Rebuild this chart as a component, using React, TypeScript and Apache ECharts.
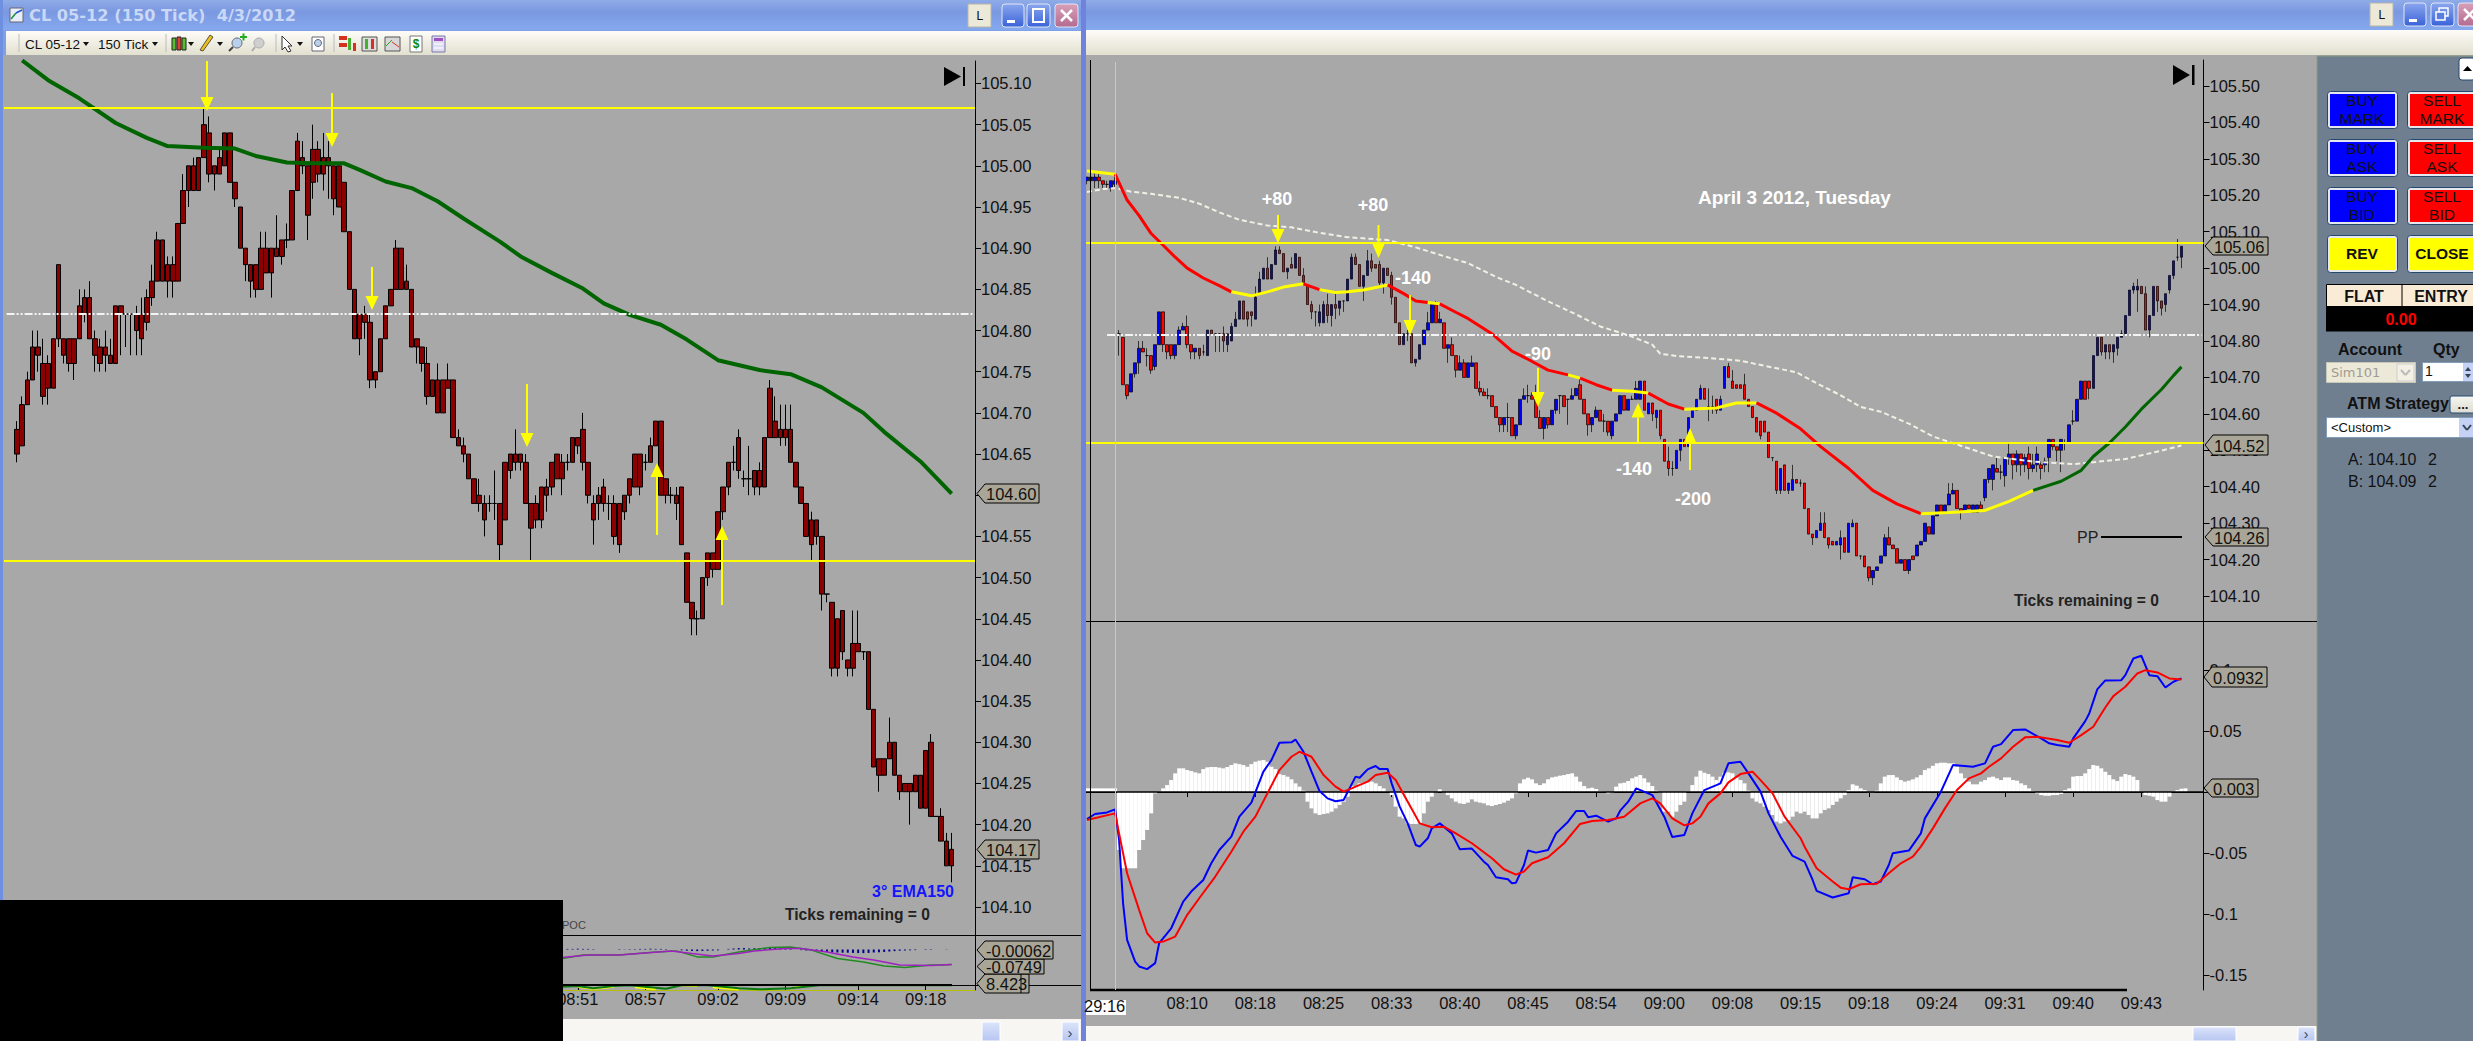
import React, { useEffect, useRef } from "react";
import * as echarts from "echarts";

// ---------- DATA (prices are cents above 104.00) ----------
const leftBars = [ // bodyTop, bodyBottom, low, high
[68,65,64,69],[71,66,66,72],[74,71,71,75],[78,74,74,80],[78,77,75,80],[76,72,71,79],[76,73,71,77],[79,73,73,79],[88,79,78,88],[79,77,76,79],
[79,76,75,79],[79,76,74,79],[83,79,79,85],[84,82,81,85],[84,79,79,86],[79,77,75,80],[78,76,75,79],[78,77,75,80],[77,76,76,79],[83,76,76,83],
[83,82,77,83],[82,82,78,82],[82,82,77,82],[82,80,77,83],[82,79,77,84],[84,81,80,85],[86,84,83,88],[91,86,86,92],[91,86,86,91],[88,86,84,89],
[88,86,84,89],[93,86,86,93],[97,93,93,99],[100,97,95,100],[100,97,97,101],[101,97,97,101],[105,101,101,107],[104,99,98,106],[100,99,97,100],[101,99,99,102],
[104,100,100,104],[104,98,98,104],[98,96,95,98],[95,90,90,95],[90,88,86,90],[88,86,84,88],[88,85,84,88],[90,85,85,92],[90,87,87,92],[90,87,84,90],
[90,89,89,94],[91,89,88,91],[91,91,90,93],[97,91,91,97],[103,97,97,104],[101,100,99,103],[100,94,91,100],[102,98,96,105],[102,99,98,103],[101,99,97,104],
[101,100,96,103],[100,96,94,100],[100,95,95,100],[98,92,92,98],[92,85,85,92],[85,79,79,85],[82,79,77,82],[82,81,79,83],[81,74,73,82],[75,74,73,75],
[79,75,75,79],[83,79,79,83],[85,83,83,85],[90,85,85,91],[90,85,85,90],[86,85,85,88],[85,78,78,85],[79,78,76,79],[78,76,75,78],[76,72,71,78],[74,72,72,74],
[74,70,70,76],[74,70,70,74],[74,73,73,76],[74,67,67,74],[67,66,66,68],[66,65,64,67],[65,62,62,65],[62,59,59,62],[60,59,58,62],[59,57,55,60],[59,59,58,60],
[59,59,57,63],[59,54,52,59],[64,57,57,64],[65,63,62,65],[65,64,63,68],[65,64,63,65],[64,59,59,65],[59,56,52,59],[59,57,56,60],[61,57,56,61],[61,60,58,62],
[64,61,60,64],[65,62,62,65],[64,62,60,65],[64,64,63,65],[67,64,64,67],[67,66,65,67],[68,64,63,70],[64,60,59,64],[59,57,54,60],[60,59,57,61],[61,59,58,62],[59,59,57,60],
[59,55,54,60],[59,54,53,59],[60,58,57,60],[62,60,59,62],[65,61,61,65],[65,61,60,65],[64,64,63,65],[66,64,64,67],[69,66,66,69],[69,60,60,69],[62,60,59,62],
[60,60,59,61],[60,59,57,61],[61,54,54,61],[53,47,47,53],[47,45,43,47],[45,45,43,46],[50,45,45,50],[53,50,49,53],[53,51,50,53],[58,51,51,58],[61,58,57,61],
[64,61,60,64],[64,64,63,66],[67,63,62,68],[62,62,61,63],[62,62,60,66],[63,61,60,63],[63,61,60,64],[67,61,61,67],[73,67,67,74],[69,67,67,72],[68,67,66,71],
[68,67,66,71],[68,64,64,71],[64,61,61,64],[61,59,59,61],[59,55,55,59],[57,54,52,58],[57,55,54,57],[55,48,46,55],[48,48,47,48],[47,39,38,47],
[45,39,38,45],[46,41,40,46],[40,39,38,40],[42,39,38,46],[42,41,41,46],[41,41,40,41],[41,34,34,41],[34,27,27,34],[28,26,24,28],[28,26,26,28],
[30,28,28,33],[30,26,26,30],[26,24,23,26],[25,24,24,25],[25,24,20,25],[26,24,24,26],[26,22,22,26],[29,22,22,29],[30,21,21,31],[21,21,21,21],
[21,18,18,22],[18,15,15,19],[17,15,13,19]];
const leftEma = [[3,112.8],[8,110.4],[14,108.2],[21,105.2],[27,103.4],[31,102.4],[38,102.2],[44,102.1],[48,101.2],[54,100.4],[59,100.3],[65,100.3],[68,99.5],[73,98.1],[78,97.3],[83,95.7],[88,93.6],[95,90.8],[99,89],[105,87],[111,85.1],[115,83.3],[120,81.9],[126,80.7],[131,78.9],[137,76.4],[145,75.2],[151,74.7],[157,73.1],[165,70],[169,67.7],[176,64.1],[182,60.2]];
const leftTimes = [[110,"08:51"],[123,"08:57"],[137,"09:02"],[150,"09:09"],[164,"09:14"],[177,"09:18"]];
const leftTickMarks = [105.1,105.05,105,104.95,104.9,104.85,104.8,104.75,104.7,104.65,104.6,104.55,104.5,104.45,104.4,104.35,104.3,104.25,104.2,104.15,104.1];
const leftPriceLabels = [105.1,105.05,105,104.95,104.9,104.85,104.8,104.75,104.7,104.65,104.55,104.5,104.45,104.4,104.35,104.3,104.25,104.2,104.15,104.1];
const leftLevels = [105.073, 104.517];
const leftPivot = 104.82;
const subGreen = [[107,-.045],[111,-.028],[118,-.028],[125,-.012],[129,-.007],[133,-.037],[136,-.037],[141,-.012],[147,.01],[151,.013],[155,-.003],[160,-.045],[165,-.062],[169,-.083],[173,-.09],[178,-.078],[180,-.077],[182,-.0749]];
const subPurple = [[107,-.04],[112,-.028],[118,-.027],[123,-.017],[128,-.007],[132,-.02],[136,-.032],[141,-.02],[144,-.007],[150,.005],[153,.005],[158,-.012],[163,-.037],[167,-.053],[172,-.078],[178,-.08],[180,-.077],[182,-.0749]];
const subHist = [[108,.003],[109,.003],[110,.004],[111,.003],[112,.003],[113,.002],[118,.002],[119,.001],[120,.002],[121,.002],[122,.003],[123,.003],[124,.004],[125,.003],[126,.003],[127,.002],[130,-.004],[131,-.006],[132,-.007],[133,-.008],[134,-.007],[135,-.006],[136,-.005],[137,-.004],[139,.003],[140,.005],[141,.007],[142,.007],[143,.005],[144,.006],[145,.007],[146,.008],[147,.008],[148,.007],[149,.006],[150,.005],[151,.003],[153,-.003],[154,-.005],[155,-.007],[156,-.008],[157,-.01],[158,-.012],[159,-.014],[160,-.015],[161,-.016],[162,-.016],[163,-.017],[164,-.018],[165,-.018],[166,-.017],[167,-.015],[168,-.014],[169,-.012],[170,-.01],[171,-.008],[172,-.006],[173,-.005],[174,-.004],[175,-.003],[177,-.002],[178,-.002],[181,-.001]];
const oscGreen = [[107,7.67],[110,8],[113,6.83],[117,8],[120,8.33],[127,6.67],[130,8.33],[135,8.33],[141,6.83],[145,6.33],[151,6.83],[157,8.5],[182,8.423]];
const oscYellow = [[110,7.6],[113,6.6],[117,7.6],[118,null],[121,7.4],[125,6.4],[126,null],[130,8.4],[133,8],[134,null],[136,7.4],[141,6.2],[142,null],[151,6.8],[153,7.8]];

const rightBars = [ // open, close, low, high
[124,125,123,125],[124,125,123,126],[124,125,122,126],[125,124,122,126],[124,123,122,124],[123,123,122,124],[122,124,121,124],[123,124,122,125],[82,82,76,83],[81,68,68,81],
[68,65,64,68],[66,71,66,71],[71,74,70,74],[74,78,71,80],[78,77,77,80],[76,76,73,78],[76,72,71,76],[73,79,72,79],[79,88,79,88],[88,79,77,88],
[79,77,75,79],[79,76,75,79],[76,79,75,79],[79,83,79,84],[83,84,83,85],[84,79,78,87],[79,77,75,79],[77,78,75,78],[78,76,75,78],[77,77,76,79],
[76,83,76,83],[83,82,82,83],[82,82,77,82],[82,82,77,82],[82,80,77,84],[79,82,77,82],[80,84,80,85],[84,86,84,88],[86,91,86,91],[91,86,86,91],
[88,86,84,88],[88,87,84,88],[86,92,86,95],[93,97,93,99],[97,100,97,100],[100,97,97,103],[97,101,97,101],[101,105,101,106],[105,104,104,106],[104,99,99,104],
[99,100,97,100],[101,100,100,103],[100,104,100,104],[103,98,98,103],[98,96,96,100],[95,90,90,95],[90,88,86,91],[88,88,84,88],[85,88,84,90],[85,90,85,91],
[90,87,85,93],[87,90,84,90],[90,89,86,93],[89,91,87,91],[91,91,88,91],[91,97,91,97],[97,103,97,104],[103,101,101,104],[101,95,95,101],[95,98,91,98],
[98,102,98,105],[102,100,99,104],[101,100,100,101],[101,96,95,102],[96,100,93,100],[100,98,98,100],[98,92,90,99],[92,85,85,92],[85,79,79,85],[79,82,79,82],
[82,82,80,83],[82,74,74,82],[74,75,73,75],[75,79,75,79],[79,83,79,83],[83,85,83,88],[85,90,85,90],[90,85,85,91],[85,86,85,88],[85,78,78,85],
[78,79,74,79],[79,76,76,81],[76,72,70,76],[72,74,72,76],[74,70,70,75],[70,74,70,74],[73,74,73,76],[74,67,67,74],[67,66,65,69],[66,65,65,67],
[65,65,64,67],[65,62,62,65],[62,59,59,62],[59,57,55,59],[57,59,55,59],[59,59,55,63],[59,54,54,59],[54,57,53,57],[57,64,57,64],[64,65,64,67],
[65,65,63,68],[65,64,64,66],[64,59,59,68],[59,56,56,61],[56,59,53,59],[59,57,56,59],[57,61,57,61],[61,64,60,64],[65,65,60,65],[65,62,62,65],
[64,64,57,64],[64,65,64,67],[65,67,65,67],[68,64,64,70],[64,60,60,64],[60,57,54,60],[57,59,55,59],[59,61,59,62],[61,58,58,61],[58,58,55,60],
[58,55,54,58],[54,58,53,58],[58,60,58,60],[60,65,60,65],[65,61,61,65],[61,64,61,64],[64,64,64,65],[64,67,64,69],[64,69,64,69],[69,61,61,69],
[60,63,60,63],[63,60,58,63],[59,61,56,61],[61,54,53,61],[53,47,47,53],[47,45,43,51],[45,45,43,47],[45,50,45,50],[50,53,47,53],[53,51,51,53],
[51,59,51,59],[59,61,59,61],[61,64,61,64],[64,67,64,68],[67,64,64,67],[62,62,58,67],[62,62,60,65],[64,61,60,64],[61,64,61,65],[67,73,67,73],
[73,70,70,74],[69,67,67,72],[68,67,67,68],[68,67,67,68],[68,64,64,71],[64,62,62,64],[62,59,59,62],[59,55,55,59],[58,54,53,58],[58,55,55,58],
[55,48,48,55],[48,48,47,48],[47,39,38,47],[39,45,38,45],[46,39,39,46],[39,41,38,41],[39,42,39,46],[42,41,41,42],[41,41,40,42],[41,34,34,41],
[34,27,27,34],[27,26,24,27],[26,28,26,28],[28,30,28,33],[30,26,26,33],[26,24,23,26],[25,24,24,25],[24,25,24,25],[24,26,20,28],[26,22,22,26],
[22,30,22,30],[29,30,29,31],[30,21,21,30],[21,21,20,21],[21,18,18,21],[18,15,14,18],[15,17,13,17],[17,18,17,18],[19,21,19,21],[21,26,21,27],
[26,24,24,29],[24,23,23,24],[23,19,19,23],[19,20,19,20],[20,17,17,20],[17,20,16,20],[21,20,20,21],[21,24,21,24],[24,25,24,25],[25,30,25,30],
[29,27,27,29],[27,32,27,32],[32,35,32,35],[35,33,33,35],[33,35,33,35],[35,38,35,41],[38,39,38,41],[39,34,34,39],[34,33,31,34],[33,35,33,35],
[35,34,34,35],[33,35,33,35],[33,35,33,35],[35,34,34,36],[37,42,36,42],[42,45,41,45],[42,46,39,46],[45,44,44,48],[44,44,42,46],[43,48,40,48],
[48,49,46,52],[49,46,42,49],[46,49,44,50],[49,46,43,49],[46,48,44,49],[49,45,42,51],[45,46,44,49],[46,49,44,51],[46,45,42,47],[46,47,44,48],
[48,53,44,53],[53,51,50,53],[51,50,47,51],[50,53,44,53],[52,52,50,53],[52,57,52,57],[58,58,57,61],[58,64,58,64],[64,69,64,69],[69,64,64,69],
[69,67,64,69],[67,76,67,76],[76,81,76,81],[81,77,76,81],[77,79,75,79],[79,77,75,79],[77,79,74,79],[78,81,76,81],[81,82,81,83],[82,87,82,87],
[87,94,87,94],[94,95,93,96],[94,95,88,97],[95,93,93,95],[93,83,83,95],[83,87,81,87],[87,95,87,95],[95,91,88,95],[91,89,87,91],[90,93,88,93],
[94,98,93,98],[98,102,97,102],[103,103,102,108],[103,106,100,106]];
const rightEma = [[0,126.7],[7,125.8],[10,118.7],[13,114.4],[16,109.5],[19,106.3],[22,103],[25,100],[29,97.3],[33,95.2],[36,93.5],[41,92.4],[45,93.5],[49,94.8],[54,95.7],[58,94.1],[62,93.3],[65,93.5],[69,94],[75,95.4],[79,93],[82,91],[85,90.6],[88,90.2],[92,87.9],[95,86.2],[101,82],[106,77.2],[110,75],[115,72],[120,70.7],[123,69.8],[127,68],[131,66.5],[136,66.2],[140,65.7],[145,62.7],[149,61.3],[157,61.6],[162,63],[167,63],[172,60.2],[178,55.9],[183,51],[190,45],[196,39],[202,35.3],[208,32.6],[215,32.9],[224,33.5],[230,36],[236,39],[243,41.5],[248,44.5],[251,48.3],[255,52],[259,56.4],[263,61.3],[268,66.7],[271,70.5],[273,72.9]];
const rightEmaSpans = [[0,7,"#ffff00"],[7,36,"#ff0000"],[36,54,"#ffff00"],[54,58,"#ff0000"],[58,75,"#ffff00"],[75,85,"#ff0000"],[85,88,"#ffff00"],[88,120,"#ff0000"],[120,123,"#ffff00"],[123,131,"#ff0000"],[131,140,"#ffff00"],[140,149,"#ff0000"],[149,167,"#ffff00"],[167,208,"#ff0000"],[208,236,"#ffff00"],[236,273,"#006400"]];
const rightSlow = [[0,120.9],[4,121.7],[7,122],[11,121],[16,120.4],[23,119.3],[28,117.7],[33,115.3],[38,113.3],[45,111.7],[51,111.2],[57,109.9],[65,108.5],[75,107.7],[82,105.7],[89,103.3],[95,101.4],[102,97.6],[107,95.4],[115,90.9],[122,87.3],[128,84],[135,81.6],[141,79],[143,76.5],[147,75.9],[154,75.4],[163,74.6],[169,73.2],[177,71.4],[182,68.4],[188,65.1],[193,61.9],[198,60.6],[205,57.3],[211,53.8],[217,51.6],[226,48.3],[236,46.9],[246,46.2],[259,47.6],[268,49.9],[273,51.3]];
const rightTimes = [[25,"08:10"],[42,"08:18"],[59,"08:25"],[76,"08:33"],[93,"08:40"],[110,"08:45"],[127,"08:54"],[144,"09:00"],[161,"09:08"],[178,"09:15"],[195,"09:18"],[212,"09:24"],[229,"09:31"],[246,"09:40"],[263,"09:43"]];
const rightTickOnly = [8];
const rightPriceTicks = [105.5,105.4,105.3,105.2,105.1,105,104.9,104.8,104.7,104.6,104.5,104.4,104.3,104.2,104.1];
const rightLevels = [105.068, 104.52];
const rightPivot = 104.817;
const macdTickMarks = [0.1,0.05,0,-0.05,-0.1,-0.15];
const macdLabels = [0.1,0.05,-0.05,-0.1,-0.15];
const macdBlue = [[0,-.0221],[2,-.018],[5,-.0167],[7,-.0142],[8,-.0393],[9,-.0912],[10,-.1212],[12,-.139],[13,-.143],[15,-.1452],[17,-.1403],[18,-.1239],[21,-.1117],[24,-.0898],[26,-.0816],[29,-.0721],[31,-.0584],[33,-.0475],[36,-.0366],[38,-.0202],[41,-.0087],[44,.0167],[46,.0262],[48,.0404],[51,.0407],[52,.0431],[54,.033],[56,.0167],[58,.0008],[60,-.0052],[62,-.0076],[64,-.0066],[67,.0126],[68,.0117],[70,.0186],[72,.0213],[73,.0188],[75,.0188],[76,.0071],[78,-.012],[80,-.0257],[82,-.0434],[83,-.0448],[85,-.0379],[86,-.0298],[88,-.0257],[91,-.0339],[93,-.047],[96,-.0464],[99,-.0571],[100,-.0598],[102,-.0699],[105,-.0715],[106,-.0748],[107,-.0743],[109,-.0598],[110,-.048],[112,-.0497],[115,-.0475],[117,-.0339],[120,-.0243],[122,-.0156],[124,-.0156],[125,-.0207],[127,-.0194],[128,-.021],[130,-.0243],[132,-.0216],[133,-.0153],[135,-.0079],[137,.003],[141,-.0025],[144,-.0202],[146,-.0369],[149,-.0352],[151,-.0175],[154,.0016],[157,.0057],[158,.0071],[160,.0235],[163,.0248],[165,.0153],[168,.0003],[170,-.0175],[173,-.0366],[176,-.0524],[179,-.0571],[181,-.0721],[182,-.0811],[186,-.0865],[190,-.083],[191,-.0699],[194,-.0715],[196,-.0756],[198,-.0734],[200,-.0598],[201,-.0502],[205,-.048],[208,-.0339],[209,-.0216],[213,.0003],[216,.0221],[221,.0207],[224,.0235],[226,.0371],[228,.0393],[231,.0508],[234,.0513],[238,.044],[240,.0399],[242,.0385],[245,.0371],[246,.044],[249,.0581],[250,.0644],[252,.0841],[254,.0915],[258,.0917],[259,.0958],[261,.1095],[263,.1117],[265,.0958],[267,.095],[269,.0857],[271,.0904],[273,.0932]];
const macdRed = [[0,-.0229],[7,-.0175],[8,-.0339],[10,-.0666],[13,-.0966],[15,-.1158],[17,-.1234],[19,-.1226],[22,-.1185],[25,-.1007],[28,-.0871],[32,-.0693],[36,-.0489],[39,-.0325],[42,-.0202],[45,-.0011],[48,.018],[51,.0289],[53,.033],[56,.0289],[59,.0139],[62,.0044],[64,.0003],[66,.003],[70,.0085],[72,.0139],[75,.0158],[77,.0098],[80,-.0079],[83,-.0257],[86,-.0289],[89,-.0284],[92,-.0339],[96,-.042],[101,-.0543],[104,-.0633],[107,-.0677],[109,-.0652],[111,-.0584],[115,-.0535],[119,-.042],[123,-.0262],[126,-.0238],[130,-.0229],[134,-.0202],[138,-.0093],[141,-.0052],[143,-.0093],[146,-.0216],[149,-.0273],[151,-.0257],[153,-.0202],[155,-.0093],[158,-.0011],[160,.0079],[163,.0147],[166,.0167],[168,.0098],[171,-.0011],[174,-.0202],[178,-.0379],[179,-.0448],[182,-.0625],[186,-.0734],[188,-.0784],[190,-.0797],[193,-.0756],[197,-.0753],[200,-.0666],[203,-.0584],[206,-.053],[208,-.0448],[211,-.0298],[214,-.0134],[217,.0016],[220,.0112],[223,.0153],[225,.0207],[228,.0276],[231,.0371],[234,.0448],[237,.0453],[242,.0426],[245,.0404],[248,.0467],[251,.0535],[254,.0693],[256,.0786],[259,.0863],[262,.0972],[264,.0999],[267,.098],[270,.0931],[273,.0923]];
const macdHistMilli = [3,3,3,3,3,3,3,3,-47.5,-62.5,-62.5,-62.5,-62.5,-47.5,-39.3,-31.1,-17.5,-1.1,.3,3,5.7,9.8,15.3,19.4,19.4,18,17.2,16.1,15.3,18.8,20.2,20.5,20.5,20,19.4,20.5,22.1,23.5,22.9,22.1,20.7,22.9,24.8,25.7,26.2,24.8,20.7,18.8,14.7,13.9,12.6,10.4,7.1,4.4,1.1,-7.9,-13.4,-17.5,-18.8,-18,-17.5,-16.1,-13.4,-10.6,-7.9,-3.8,4.9,4.4,7.1,7.6,7.9,8.5,7.1,4.9,3,.3,-2.5,-12,-20.2,-21.6,-25.7,-26.2,-26.2,-25.7,-17.5,-7.9,-3.8,-.5,2.2,-.5,-2.5,-5.2,-7.9,-9.3,-9.8,-8.7,-6,-7.9,-8.7,-9.3,-10.9,-11.5,-10.6,-9.8,-8.7,-7.1,-5.2,-1.1,7.1,10.4,11.7,10.4,7.1,5.7,7.1,10.4,12,12.6,13.4,13.9,14.7,15.3,12.6,8.5,4.9,3,3.5,2.5,.8,.3,-1.1,-.5,4.4,7.1,7.6,9,11.2,12.6,13.9,11.2,7.9,4.9,1.1,-.5,-16.1,-16.1,-20.2,-16.1,-10.6,-7.9,.3,5.7,12.6,17.5,15.8,14.7,12.6,9.8,12.6,15.8,16.1,15.3,12,9.8,7.1,1.1,-5.2,-7.9,-9.3,-12,-14.7,-18.8,-24.2,-25.7,-24.2,-22.9,-20.2,-16.1,-17.5,-16.1,-18.8,-21.6,-21.6,-17.5,-14.7,-13.4,-10.6,-7.9,-5.2,-2.5,1.6,6.3,5.2,3,1.6,-.3,-.3,1.1,7.1,12.6,13.9,13.9,12,9.8,8.5,9.3,10.4,12,13.9,18,19.4,21.5,23.5,24,24,23.5,23.5,20.7,15.3,11.2,8.5,6.3,6.3,8.5,9.8,12,12.6,11.2,9.8,12,12,9.8,9.3,7.1,5.7,3,.8,-1.1,-2.5,-3,-3,-2.5,-2.5,-1.6,1.6,3,12.6,13.1,13.1,15.3,18.8,22.1,21.5,19.4,16.6,13.9,10.4,9,12.6,14.7,13.9,12.6,9.8,.3,-2.5,-3,-3.8,-6.6,-7.9,-7.9,-3.8,.3,1.6,2.7,3];

// ---------- layout constants ----------
const GREY = "#a8a8a8";
const LEFT = { x0: 4, x1: 975, top: 61, sub1: 935, sub2: 985, bottom: 990 };
const RIGHT = { x0: 1085, x1: 2203.5, top: 60, sep: 621, bottom: 990 };
const LEFT_CATS = 187;
const RIGHT_CATS = 279;
const LEFT_OFFSET = 2;
const RIGHT_PIVOT_START = 5;
const SANS = '"Liberation Sans", Arial, sans-serif';
const AXIS_FONT = 16.5;

const price = (c: number) => 104 + c / 100;
const pts = (list: number[][]) => list.map(([i, c]) => [i, price(c)]);

function cats(n: number, labels: any[]) {
  const arr = new Array(n).fill("");
  labels.forEach(([i, t]) => (arr[i] = t));
  return arr;
}

// ---------- graphic helpers ----------
let Z = 50;
const rect = (x: number, y: number, w: number, h: number, fill: any, stroke?: string, lw = 1, r = 0) => ({
  type: "rect", silent: true, z: Z, shape: { x, y, width: w, height: h, r },
  style: { fill, stroke: stroke || "none", lineWidth: stroke ? lw : 0 },
});
const line = (x1: number, y1: number, x2: number, y2: number, stroke: string, lineWidth = 1, lineDash?: number[]) => ({
  type: "line", silent: true, z: Z, shape: { x1, y1, x2, y2 }, style: { stroke, lineWidth, lineDash },
});
const poly = (points: number[][], fill: string, stroke?: string) => ({
  type: "polygon", silent: true, z: Z, shape: { points }, style: { fill, stroke: stroke || "none", lineWidth: stroke ? 1 : 0 },
});
const txt = (x: number, y: number, text: string, o: any = {}) => ({
  type: "text", silent: true, z: o.z || Z + 1, x, y,
  style: {
    text, fill: o.fill || "#111", fontSize: o.size || 16, fontFamily: o.family || SANS, fontWeight: o.weight || "normal",
    align: o.align || "left", textAlign: o.align || "left", verticalAlign: "middle", textVerticalAlign: "middle",
  },
});
const vgrad = (a: string, b: string, c?: string) =>
  new echarts.graphic.LinearGradient(0, 0, 0, 1, c
    ? [{ offset: 0, color: a }, { offset: 0.4, color: b }, { offset: 1, color: c }]
    : [{ offset: 0, color: a }, { offset: 1, color: b }]);

const arrow = (x: number, from: number, tip: number, headEnd: number, hw = 6.5) => [
  line(x, from, x, headEnd, "#ffff00", 2),
  poly([[x, tip], [x - hw, headEnd], [x + hw, headEnd]], "#ffff00"),
];
const tag = (x: number, xEnd: number, top: number, bottom: number, text: string) => [
  poly([[x, (top + bottom) / 2], [x + 8, top], [xEnd, top], [xEnd, bottom], [x + 8, bottom]], "#aaa697", "#000"),
  txt(x + 9, (top + bottom) / 2 + 0.5, text, { size: AXIS_FONT }),
];
const button = (x: number, y: number, w: number, h: number, fill: string, a: string, b?: string) => {
  const out: any[] = [rect(x + 0.5, y + 0.5, w, h, "#e4e8ee", "#27486e", 1, 3), rect(x + 3, y + 3, w - 5, h - 5, fill)];
  if (b) {
    out.push(txt(x + w / 2, y + 9, a, { align: "center", size: 15.5 }));
    out.push(txt(x + w / 2, y + 27, b, { align: "center", size: 15.5 }));
  } else {
    out.push(txt(x + w / 2, y + 18, a, { align: "center", size: 15.5, weight: "bold" }));
  }
  return out;
};
const winButtons = (l: number, mn: number, mx: number, cl: number, y: number, restore: boolean) => {
  const out: any[] = [];
  out.push(rect(l, y, 23, 23, "#ece9d8", "#b8b6a8"));
  out.push(txt(l + 11.5, y + 12, "L", { align: "center", size: 12, family: '"DejaVu Sans"' }));
  const blue = vgrad("#8aa6ee", "#3a63d8");
  out.push(rect(mn, y, 22, 23, blue, "#dfe6f8", 1, 3));
  out.push(rect(mn + 5, y + 16, 8, 3, "#fff"));
  out.push(rect(mx, y, 23, 23, blue, "#dfe6f8", 1, 3));
  if (restore) {
    out.push(rect(mx + 8, y + 5, 9, 8, "none", "#fff", 1.5));
    out.push(rect(mx + 5, y + 9, 9, 8, "#5a7de0", "#fff", 1.5));
  } else {
    out.push(rect(mx + 6, y + 5, 11, 13, "none", "#fff", 2));
  }
  out.push(rect(cl, y, 23, 23, vgrad("#d8a0b8", "#b46a90"), "#dfe6f8", 1, 3));
  out.push(line(cl + 6, y + 6, cl + 17, y + 17, "#fff", 2.5));
  out.push(line(cl + 17, y + 6, cl + 6, y + 17, "#fff", 2.5));
  return out;
};

function buildGraphics() {
  const g: any[] = [];
  const toolbarFill = vgrad("#fdfcf8", "#e2e0cf");
  const titleFill = vgrad("#8fabe8", "#7a98e0", "#86a9ee");
  // window frames
  g.push(rect(0, 0, 1085, 30, titleFill), rect(1085, 0, 1388, 30, titleFill));
  g.push(rect(0, 30, 1085, 25, "#7f9fe8"), rect(6, 31, 1076, 24, toolbarFill));
  g.push(rect(1085, 30, 1388, 25, toolbarFill));
  g.push(rect(0, 0, 3, 1041, "#6f8fe0"), rect(1081, 0, 5, 1041, "#6f82dc"));
  g.push(rect(3, 1019, 1078, 22, "#f7f6f2"), rect(1086, 1026, 1232, 15, "#f7f6f2"));
  // scroll bars
  g.push(rect(982, 1022, 18, 19, vgrad("#dbe4fa", "#b7c6f2"), "#fff"), rect(1062, 1022, 17, 19, vgrad("#dbe4fa", "#b7c6f2"), "#fff"));
  g.push(txt(1070, 1032, "›", { size: 15, align: "center", fill: "#345" }));
  g.push(rect(2193, 1027, 43, 14, vgrad("#dbe4fa", "#b7c6f2"), "#fff"), rect(2298, 1027, 17, 14, vgrad("#dbe4fa", "#b7c6f2"), "#fff"));
  g.push(txt(2306, 1034, "›", { size: 14, align: "center", fill: "#345" }));
  // title
  g.push(rect(10, 8, 13, 14, "#e8eef8", "#667"), line(11, 19, 16, 13, "#1a8f3a", 1.5), line(16, 13, 22, 10, "#1e50c8", 1.5));
  g.push(txt(29, 15, "CL 05-12 (150 Tick)  4/3/2012", { fill: "#c9d8f6", size: 16.2, weight: "bold", family: '"DejaVu Sans"' }));
  g.push(...winButtons(968, 1002, 1027, 1055, 4, false));
  g.push(...winButtons(2370, 2404, 2431, 2458, 3, true));
  // toolbar text
  g.push(line(19, 34, 19, 52, "#bbb", 1));
  g.push(txt(25, 44, "CL 05-12", { size: 13.5, family: SANS }), txt(98, 44, "150 Tick", { size: 13.5, family: SANS }));
  g.push(poly([[83, 42], [89, 42], [86, 46]], "#111"), poly([[152, 42], [158, 42], [155, 46]], "#111"), poly([[188, 42], [194, 42], [191, 46]], "#111"), poly([[217, 42], [223, 42], [220, 46]], "#111"), poly([[297, 42], [303, 42], [300, 46]], "#111"));
  g.push(line(166, 34, 166, 52, "#bbb", 1), line(276, 34, 276, 52, "#bbb", 1), line(334, 34, 334, 52, "#bbb", 1));
  g.push(rect(172, 38, 4, 12, "#58c030", "#222"), rect(177, 37, 4, 13, "#e04030", "#222"), rect(182, 38, 4, 12, "#58c030", "#222"));
  g.push(poly([[200, 50], [203, 51], [213, 37], [210, 35]], "#f0c020", "#553"));
  g.push({ type: "circle", silent: true, z: Z, shape: { cx: 237, cy: 43, r: 5 }, style: { fill: "#b8d0ec", stroke: "#667", lineWidth: 1 } }, line(233, 47, 229, 51, "#444", 2), line(240, 37, 247, 37, "#2a2", 2), line(243.5, 33.5, 243.5, 40.5, "#2a2", 2));
  g.push({ type: "circle", silent: true, z: Z, shape: { cx: 259, cy: 43, r: 5 }, style: { fill: "#cfcfcf", stroke: "#aaa", lineWidth: 1 } }, line(255, 47, 252, 51, "#aaa", 2));
  g.push(poly([[282, 36], [292, 46], [288, 46], [291, 51], [288, 52], [285, 47], [282, 50]], "#fff", "#333"));
  g.push(rect(312, 37, 12, 14, "#fff", "#667"), { type: "circle", silent: true, z: Z, shape: { cx: 318, cy: 43, r: 3.5 }, style: { fill: "#b8d0ec", stroke: "#667", lineWidth: 1 } });
  g.push(rect(339, 36, 8, 4, "#d83020"), rect(339, 43, 8, 4, "#d83020"), rect(348, 38, 3, 12, "#48b030"), rect(353, 43, 3, 8, "#d83020"));
  g.push(rect(362, 37, 15, 14, "#ddd", "#555"), rect(365, 39, 3, 10, "#48b030"), rect(371, 39, 3, 10, "#d83020"));
  g.push(rect(385, 37, 15, 14, "#d8d8d8", "#555"), line(386, 46, 392, 40, "#2a2", 1), line(392, 42, 399, 47, "#d33", 1));
  g.push(rect(410, 36, 12, 16, "#fff", "#777"), txt(416, 44, "$", { align: "center", size: 12, fill: "#180", weight: "bold" }));
  g.push(rect(432, 36, 13, 16, "#dde", "#77a"), rect(434, 38, 9, 3, "#a050c0"), rect(434, 43, 9, 2, "#eef"), rect(434, 47, 9, 2, "#eef"));
  // right side panel
  g.push(rect(2317, 56, 156, 985, "#6f7f90"), line(2317, 56, 2473, 56, "#8e9a80", 1), line(2317, 56, 2317, 1041, "#8e9a80", 1));
  g.push(rect(2459, 58, 16, 22, "#fff", "#27486e", 1, 3), poly([[2463, 71], [2472, 71], [2467.5, 66]], "#000"));
  g.push(...button(2327, 91, 70, 37, "#0000ff", "BUY", "MARK"), ...button(2407, 91, 70, 37, "#ff0000", "SELL", "MARK"));
  g.push(...button(2327, 139, 70, 37, "#0000ff", "BUY", "ASK"), ...button(2407, 139, 70, 37, "#ff0000", "SELL", "ASK"));
  g.push(...button(2327, 187, 70, 37, "#0000ff", "BUY", "BID"), ...button(2407, 187, 70, 37, "#ff0000", "SELL", "BID"));
  g.push(...button(2327, 235, 70, 37, "#ffff00", "REV"), ...button(2407, 235, 70, 37, "#ffff00", "CLOSE"));
  g.push(rect(2326.5, 284.5, 150, 22, "#faebd7", "#000"), line(2402, 285, 2402, 306, "#000"), rect(2326, 306.5, 150, 25, "#000"));
  g.push(txt(2364, 296, "FLAT", { align: "center", size: 16, weight: "bold" }), txt(2441, 296, "ENTRY", { align: "center", size: 16, weight: "bold" }));
  g.push(txt(2401, 319, "0.00", { align: "center", size: 16, weight: "bold", fill: "#ff0000" }));
  g.push(txt(2338, 349, "Account", { size: 16, weight: "bold" }), txt(2433, 349, "Qty", { size: 16, weight: "bold" }));
  g.push(rect(2326.5, 362.5, 89, 20, "#ece9d8", "#c8c8b8"), txt(2331, 372.5, "Sim101", { size: 13, fill: "#a09c90", family: '"DejaVu Sans"' }));
  g.push(rect(2397, 364, 17, 17, "#f2f0e4", "#ccc"), line(2401, 370, 2405.5, 375, "#bbb", 2), line(2410, 370, 2405.5, 375, "#bbb", 2));
  g.push(rect(2422.5, 362.5, 52, 19, "#fff", "#7f9db9"), txt(2425, 371, "1", { size: 14 }));
  g.push(rect(2463, 363, 10, 18, "#c5d2f5"), poly([[2465, 371], [2471, 371], [2468, 367]], "#345"), poly([[2465, 374], [2471, 374], [2468, 378]], "#345"));
  g.push(txt(2347, 403, "ATM Strategy", { size: 16, weight: "bold" }), rect(2450, 396, 26, 17, vgrad("#f6f6f2", "#dcdcd2"), "#27486e", 1, 2), txt(2463, 404, "...", { size: 13, align: "center", weight: "bold" }));
  g.push(rect(2326.5, 417.5, 150, 20, "#fff", "#7f9db9"), txt(2331, 427.5, "<Custom>", { size: 13 }), rect(2459, 418, 15, 19, "#c5d2f5"), line(2463, 425, 2467, 430, "#345", 2), line(2471, 425, 2467, 430, "#345", 2));
  g.push(txt(2348, 459, "A: 104.10", { size: 16 }), txt(2428, 459, "2", { size: 16 }), txt(2348, 481, "B: 104.09", { size: 16 }), txt(2428, 481, "2", { size: 16 }));
  // panel rules
  g.push(line(4, 935.5, 1081, 935.5, "#000", 1), line(4, 985.5, 1081, 985.5, "#000", 1), line(563, 985, 952, 985, "#000", 2));
  g.push(line(1086, 621.5, 2317, 621.5, "#000", 1), line(1090, 990, 2127, 990, "#000", 2.5));
  g.push(line(1090.5, 60, 1090.5, 990, "#000", 1), line(1115.5, 62, 1115.5, 990, "#c8c8c8", 1));
  // skip-to-end icons
  g.push(poly([[944, 67], [944, 86], [961, 76.5]], "#000"), rect(963, 67, 2, 19, "#000"));
  g.push(poly([[2173, 65], [2173, 85], [2190, 75]], "#000"), rect(2192, 65, 2.5, 20, "#000"));
  // left annotations
  g.push(...arrow(207, 61, 111, 97), ...arrow(332, 93, 147, 133), ...arrow(372, 267, 310, 296), ...arrow(527, 384, 447, 433));
  g.push(...arrow(657, 535, 463, 477), ...arrow(722, 605, 526, 540));
  g.push(txt(872, 891, "3° EMA150", { fill: "#1414ff", size: 16, weight: "bold" }));
  g.push(txt(785, 914, "Ticks remaining = 0", { fill: "#222", size: 15.6, weight: "bold" }));
  g.push(txt(562, 925, "POC", { size: 11, fill: "#444" }));
  // right annotations
  g.push(...arrow(1278, 215, 243, 229), ...arrow(1378.5, 225, 258, 243), ...arrow(1410, 295, 335, 320), ...arrow(1538, 368, 407, 392));
  g.push(...arrow(1638, 443, 403, 417.5), ...arrow(1690, 470, 428, 443.5));
  const W = { fill: "#fff", size: 18, weight: "bold", align: "center" };
  g.push(txt(1277, 199, "+80", W), txt(1373, 205, "+80", W), txt(1413, 278, "-140", W), txt(1538, 354, "-90", W), txt(1634, 469, "-140", W), txt(1693, 499, "-200", W));
  g.push(txt(1698, 197, "April 3 2012, Tuesday", { fill: "#fff", size: 19, weight: "bold" }));
  g.push(txt(2014, 600, "Ticks remaining = 0", { fill: "#222", size: 15.6, weight: "bold" }));
  g.push(txt(2077, 537, "PP", { size: 16, fill: "#222" }), line(2101, 537, 2182, 537, "#000", 2));
  g.push(rect(1086, 1000, 40, 15, "#fff"), txt(1084, 1006, "29:16", { size: AXIS_FONT }));
  // price tags
  Z = 55;
  g.push(...tag(977, 1039, 484, 503, "104.60"), ...tag(977, 1039, 840, 859, "104.17"));
  g.push(...tag(977, 1029, 974, 993, "8.423"), line(1021, 974, 1021, 993, "#000", 1), ...tag(977, 1044, 959, 974, "-0.0749"), ...tag(977, 1053, 941, 959, "-0.00062"));
  g.push(...tag(2205, 2268, 237, 255, "105.06"), ...tag(2205, 2268, 435, 455, "104.52"), ...tag(2205, 2268, 528, 546, "104.26"));
  g.push(...tag(2204, 2267, 667, 687, "0.0932"), ...tag(2204, 2258, 779, 797, "0.003"));
  // redaction block
  Z = 60;
  g.push(rect(0, 900, 563, 141, "#000"));
  return g;
}

const timeAxis = (grid: number, n: number, times: any[], extra: number[], color: string, inside: boolean, margin: number) => {
  const ticks = new Set([...times.map((t) => t[0]), ...extra]);
  const labels = new Set(times.map((t) => t[0]));
  return {
    type: "category", gridIndex: grid, data: cats(n, times), boundaryGap: true,
    axisLine: { show: true, lineStyle: { color, width: 1 } },
    axisTick: { show: true, inside, alignWithLabel: true, length: 5, interval: (i: number) => ticks.has(i), lineStyle: { color: "#000" } },
    axisLabel: { show: true, interval: (i: number) => labels.has(i), margin, color: "#111", fontFamily: SANS, fontSize: AXIS_FONT },
    splitLine: { show: false },
  };
};
const hiddenX = (grid: number, n: number) => ({
  type: "category", gridIndex: grid, data: cats(n, []), boundaryGap: true,
  axisLine: { show: false }, axisTick: { show: false }, axisLabel: { show: false }, splitLine: { show: false },
});
const yAxis = (grid: number, min: number, max: number, ticks: number[], labels: number[], digits: number | null) => ({
  type: "value", gridIndex: grid, position: "right", min, max, scale: true,
  axisLine: { show: true, onZero: false, lineStyle: { color: "#000" } },
  axisTick: { show: ticks.length > 0, length: 6, customValues: ticks, lineStyle: { color: "#000" } },
  axisLabel: {
    show: labels.length > 0, customValues: labels, margin: 6, color: "#111", fontFamily: SANS, fontSize: AXIS_FONT,
    formatter: (v: number) => (digits === null ? String(+v.toFixed(4)) : v.toFixed(digits)),
  },
  splitLine: { show: false },
});
const PIVOT_STYLE = { color: "#f4f4f4", width: 2, type: [8, 2, 2, 2, 2, 2] };
const levelLines = (levels: number[], pivot: number, pivotFrom: number, pivotTo: number) => ({
  silent: true, symbol: "none", label: { show: false }, animation: false,
  data: [
    ...levels.map((v) => ({ yAxis: v, lineStyle: { color: "#ffff00", width: 2, type: "solid" } })),
    [{ coord: [pivotFrom, pivot], lineStyle: PIVOT_STYLE }, { coord: [pivotTo, pivot] }],
  ],
});
const plainLine = (name: string, x: number, data: any[], color: string, width: number, extra: any = {}) => ({
  name, type: "line", xAxisIndex: x, yAxisIndex: x, data, showSymbol: false, symbol: "none", silent: true,
  lineStyle: { color, width, ...(extra.lineStyle || {}) }, z: extra.z || 4, connectNulls: false,
});

function buildOption() {
  const series: any[] = [];
  series.push({
    name: "CL 05-12", type: "candlestick", xAxisIndex: 0, yAxisIndex: 0, barWidth: 5, silent: true, z: 3,
    data: new Array(LEFT_OFFSET).fill("-").concat(leftBars.map(([t, b, l, h]) => [price(t), price(b), price(l), price(h)]) as any),
    itemStyle: { color: "#8b0000", color0: "#8b0000", borderColor: "#000", borderColor0: "#000", borderWidth: 1 },
    markLine: levelLines(leftLevels, leftPivot, 0, LEFT_CATS - 1),
  });
  series.push(plainLine("EMA150", 0, pts(leftEma), "#006400", 4));
  series.push({ name: "sub histogram", type: "bar", xAxisIndex: 1, yAxisIndex: 1, barWidth: 2, silent: true, data: subHist, itemStyle: { color: "#00008b" }, z: 2 });
  series.push(plainLine("sub green", 1, subGreen, "#228b22", 1.5));
  series.push(plainLine("sub purple", 1, subPurple, "#a020c0", 1.5));
  series.push(plainLine("osc yellow", 2, oscYellow, "#ffff00", 2));
  series.push(plainLine("osc green", 2, oscGreen, "#0a7a10", 2));
  series.push({
    name: "CL right", type: "candlestick", xAxisIndex: 3, yAxisIndex: 3, barWidth: 3, silent: true, z: 3,
    data: rightBars.map(([o, c, l, h]) => [price(o), price(c), price(l), price(h)]),
    itemStyle: { color: "#0000ff", color0: "#ff0000", borderColor: "#000", borderColor0: "#000", borderWidth: 0.7 },
    markLine: levelLines(rightLevels, rightPivot, RIGHT_PIVOT_START, RIGHT_CATS - 1),
  });
  series.push(plainLine("slow EMA", 3, pts(rightSlow), "#f0f0e4", 2, { lineStyle: { type: [5, 3] } }));
  rightEmaSpans.forEach(([a, b, color]: any, k) => {
    const seg = rightEma.filter(([i]) => i >= a && i <= b);
    series.push(plainLine("EMA " + k, 3, pts(seg), color, 3));
  });
  series.push({
    name: "MACD hist", type: "bar", xAxisIndex: 4, yAxisIndex: 4, barCategoryGap: 0, barWidth: "100%", silent: true, z: 2,
    data: macdHistMilli.map((v) => v / 1000), itemStyle: { color: "#ffffff" },
    markLine: { silent: true, symbol: "none", label: { show: false }, data: [{ yAxis: 0, lineStyle: { color: "#000", width: 1.5, type: "solid" } }], z: 3 },
  });
  series.push(plainLine("MACD", 4, macdBlue, "#0000ff", 2));
  series.push(plainLine("Signal", 4, macdRed, "#ff0000", 2, { z: 5 }));

  const lw = LEFT.x1 - LEFT.x0;
  const rw = RIGHT.x1 - RIGHT.x0;
  return {
    animation: false,
    backgroundColor: GREY,
    grid: [
      { left: LEFT.x0, top: LEFT.top, width: lw, height: LEFT.sub1 - LEFT.top },
      { left: LEFT.x0, top: LEFT.sub1, width: lw, height: LEFT.sub2 - LEFT.sub1 },
      { left: LEFT.x0, top: LEFT.sub2, width: lw, height: LEFT.bottom - LEFT.sub2 },
      { left: RIGHT.x0, top: RIGHT.top, width: rw, height: RIGHT.sep - RIGHT.top },
      { left: RIGHT.x0, top: RIGHT.sep, width: rw, height: RIGHT.bottom - RIGHT.sep },
    ],
    xAxis: [
      hiddenX(0, LEFT_CATS),
      hiddenX(1, LEFT_CATS),
      timeAxis(2, LEFT_CATS, leftTimes, [], "#b5c000", true, 0),
      hiddenX(3, RIGHT_CATS),
      timeAxis(4, RIGHT_CATS, rightTimes, rightTickOnly, "#000", false, 4),
    ],
    yAxis: [
      yAxis(0, 104.066, 105.1273, leftTickMarks, leftPriceLabels, 2),
      yAxis(1, -0.1775, 0.0725, [], [], null),
      yAxis(2, 6, 8.5, [], [], null),
      yAxis(3, 104.0314, 105.5714, rightPriceTicks, rightPriceTicks, 2),
      yAxis(4, -0.1623, 0.1402, macdTickMarks, macdLabels, null),
    ],
    series,
    graphic: { elements: buildGraphics() },
  };
}

export default function App() {
  const ref = useRef<HTMLDivElement>(null);
  useEffect(() => {
    document.body.style.margin = "0";
    Z = 50;
    const chart = echarts.init(ref.current as HTMLDivElement, undefined, { renderer: "svg" });
    chart.setOption(buildOption() as any);
    return () => chart.dispose();
  }, []);
  return <div ref={ref} style={{ position: "absolute", left: 0, top: 0, width: 2473, height: 1041 }} />;
}
